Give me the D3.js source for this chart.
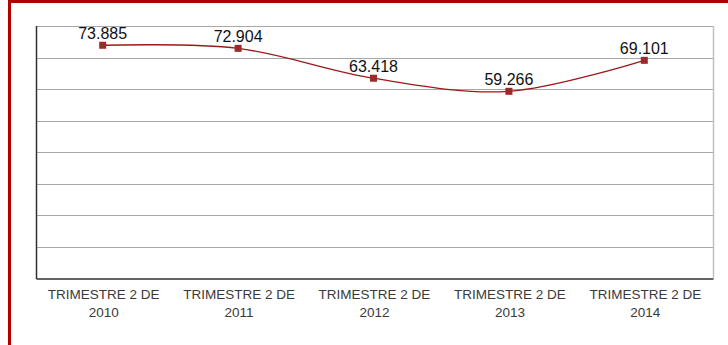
<!DOCTYPE html>
<html>
<head>
<meta charset="utf-8">
<script src="https://cdn.jsdelivr.net/npm/d3@7"></script>
<style>
  html, body { margin: 0; padding: 0; background: #fff; }
  svg { display: block; }
</style>
</head>
<body>
<svg id="chart" width="728" height="345"></svg>
<script>
const categories = ["TRIMESTRE 2 DE 2010", "TRIMESTRE 2 DE 2011", "TRIMESTRE 2 DE 2012", "TRIMESTRE 2 DE 2013", "TRIMESTRE 2 DE 2014"];
const categoryLine1 = ["TRIMESTRE 2 DE", "TRIMESTRE 2 DE", "TRIMESTRE 2 DE", "TRIMESTRE 2 DE", "TRIMESTRE 2 DE"];
const categoryLine2 = ["2010", "2011", "2012", "2013", "2014"];
const values = [73.885, 72.904, 63.418, 59.266, 69.101];
const valueLabels = ["73.885", "72.904", "63.418", "59.266", "69.101"];
const yTicks = [0, 10, 20, 30, 40, 50, 60, 70, 80];

const svg = d3.select("#chart");
const W = 728, H = 345;
const plot = { left: 36, right: 713, top: 26, bottom: 278 };

// outer frame (dark red left & top border)
svg.append("rect").attr("x", 8).attr("y", 0).attr("width", W - 8).attr("height", 3).attr("fill", "#b00000");
svg.append("rect").attr("x", 8).attr("y", 0).attr("width", 3).attr("height", H).attr("fill", "#b00000");

const x = d3.scaleBand().domain(categories).range([plot.left, plot.right]);
const y = d3.scaleLinear().domain([0, 80]).range([plot.bottom, plot.top]);

// gridlines
const g = svg.append("g");
g.selectAll("line.grid").data(yTicks.filter(d => d > 0)).join("line")
  .attr("class", "grid")
  .attr("x1", plot.left).attr("x2", plot.right)
  .attr("y1", d => Math.round(y(d)) + 0.5).attr("y2", d => Math.round(y(d)) + 0.5)
  .attr("stroke", "#a8a8a8").attr("stroke-width", 1);

// right border of plot
svg.append("line")
  .attr("x1", plot.right + 0.5).attr("x2", plot.right + 0.5)
  .attr("y1", plot.top).attr("y2", plot.bottom)
  .attr("stroke", "#c0c0c0").attr("stroke-width", 1.5);

// left axis line
svg.append("line")
  .attr("x1", plot.left + 0.5).attr("x2", plot.left + 0.5)
  .attr("y1", plot.top).attr("y2", plot.bottom + 1)
  .attr("stroke", "#303030").attr("stroke-width", 1.5);

// bottom axis via d3 axis
const xAxis = d3.axisBottom(x).tickSize(0).tickFormat("");
const ax = svg.append("g").attr("transform", `translate(0,${plot.bottom + 0.5})`).call(xAxis);
ax.select(".domain").attr("stroke", "#303030").attr("stroke-width", 1.5);

// category labels (two lines)
const lbl = svg.append("g").attr("font-family", "'Liberation Sans', Arial, sans-serif")
  .attr("font-size", "13.5px").attr("fill", "#3a3a3a").attr("text-anchor", "middle");
categories.forEach((c, i) => {
  const cx = x(c) + x.bandwidth() / 2;
  const t = lbl.append("text").attr("x", cx).attr("y", 299);
  t.append("tspan").attr("x", cx).attr("y", 299).text(categoryLine1[i]);
  t.append("tspan").attr("x", cx).attr("y", 317).text(categoryLine2[i]);
});

const pts = values.map((v, i) => [x(categories[i]) + x.bandwidth() / 2 - 1, y(v)]);

// smoothed line
const line = d3.line().curve(d3.curveCardinal.tension(0));
svg.append("path").attr("d", line(pts))
  .attr("fill", "none").attr("stroke", "#9a1a1a").attr("stroke-width", 1.3);

// markers
svg.selectAll("rect.marker").data(pts).join("rect")
  .attr("class", "marker")
  .attr("x", d => d[0] - 3.5).attr("y", d => d[1] - 3.5)
  .attr("width", 7).attr("height", 7)
  .attr("fill", "#9b2a2a");

// value labels
svg.selectAll("text.val").data(pts).join("text")
  .attr("class", "val")
  .attr("x", d => d[0]).attr("y", d => d[1] - 6)
  .attr("text-anchor", "middle")
  .attr("font-family", "'Liberation Sans', Arial, sans-serif")
  .attr("font-size", "16px").attr("fill", "#111")
  .text((d, i) => valueLabels[i]);
</script>
</body>
</html>
